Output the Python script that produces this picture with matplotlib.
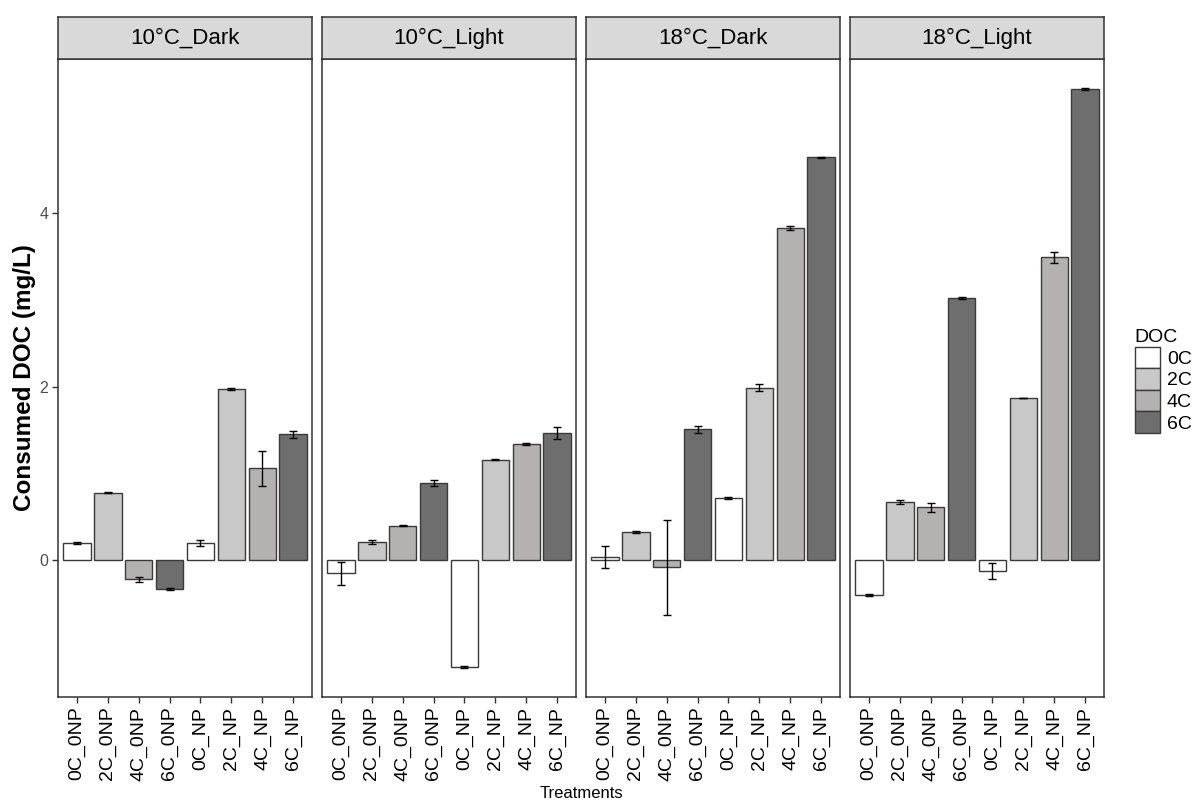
import numpy as np
import matplotlib
matplotlib.use('Agg')
import matplotlib.pyplot as plt
from matplotlib.patches import Patch

plt.rcParams['font.family'] = ['Liberation Sans', 'DejaVu Sans']

# Treatments on the x axis, DOC level of each treatment
treatments = ['0C_0NP', '2C_0NP', '4C_0NP', '6C_0NP', '0C_NP', '2C_NP', '4C_NP', '6C_NP']
doc_group = ['0C', '2C', '4C', '6C', '0C', '2C', '4C', '6C']
panels = ['10°C_Dark', '10°C_Light', '18°C_Dark', '18°C_Light']

# mean consumed DOC (mg/L) and error per panel
dark10 = [0.20, 0.78, -0.22, -0.33, 0.20, 1.97, 1.06, 1.45]
dark10_se = [0.01, 0.01, 0.03, 0.01, 0.03, 0.01, 0.20, 0.04]
light10 = [-0.15, 0.21, 0.40, 0.89, -1.23, 1.16, 1.34, 1.47]
light10_se = [0.13, 0.02, 0.01, 0.03, 0.01, 0.01, 0.01, 0.07]
dark18 = [0.04, 0.33, -0.08, 1.51, 0.72, 1.99, 3.83, 4.64]
dark18_se = [0.13, 0.01, 0.55, 0.04, 0.01, 0.04, 0.02, 0.01]
light18 = [-0.40, 0.67, 0.61, 3.02, -0.12, 1.87, 3.49, 5.43]
light18_se = [0.01, 0.02, 0.05, 0.01, 0.09, 0.005, 0.06, 0.01]

means = [dark10, light10, dark18, light18]
errs = [dark10_se, light10_se, dark18_se, light18_se]

doc_levels = ['0C', '2C', '4C', '6C']
doc_colors = {'0C': '#FFFFFF', '2C': '#C8C8C8', '4C': '#B6B1B1', '6C': '#6E6E6E'}

# y limits like ggplot's 5% expansion
all_lo = min(min(np.array(m) - np.array(e)) for m, e in zip(means, errs))
all_hi = max(max(np.array(m) + np.array(e)) for m, e in zip(means, errs))
pad = 0.05 * (all_hi - all_lo)
ylo, yhi = all_lo - pad, all_hi + pad

W, H = 1197, 802
fig = plt.figure(figsize=(W / 100, H / 100), dpi=100)

lefts = [58, 322, 586, 850]
pw = 254
ptop, pbot = 59, 697
stop = 17
edge = '#333333'
x = np.arange(1, 9)

for i, name in enumerate(panels):
    l = lefts[i]
    ax = fig.add_axes([l / W, 1 - pbot / H, pw / W, (pbot - ptop) / H])
    cols = [doc_colors[g] for g in doc_group]
    ax.bar(x, means[i], width=0.9, color=cols, edgecolor='#3a3a3a', linewidth=1.0, zorder=2)
    ax.errorbar(x, means[i], yerr=errs[i], fmt='none', ecolor='black',
                elinewidth=1.0, capsize=2.6, capthick=1.0, zorder=3)
    ax.set_xlim(0.4, 8.6)
    ax.set_ylim(ylo, yhi)
    ax.set_xticks(x)
    ax.set_xticklabels(treatments, rotation=90, fontsize=14, color='black')
    ax.set_yticks([0, 2, 4])
    if i == 0:
        ax.set_yticklabels(['0', '2', '4'], fontsize=11.5, color='#4D4D4D')
    else:
        ax.tick_params(axis='y', left=False, labelleft=False)
    ax.tick_params(axis='both', length=4, width=1, color='#333333', pad=3)
    for s in ax.spines.values():
        s.set_color(edge)
        s.set_linewidth(1.1)

    sax = fig.add_axes([l / W, 1 - ptop / H, pw / W, (ptop - stop) / H])
    sax.set_facecolor('#D9D9D9')
    sax.set_xticks([])
    sax.set_yticks([])
    for s in sax.spines.values():
        s.set_color(edge)
        s.set_linewidth(1.1)
    sax.text(0.5, 0.5, name, ha='center', va='center', fontsize=16, transform=sax.transAxes)

fig.text(25 / W, 1 - 378 / H, 'Consumed DOC (mg/L)', rotation=90, ha='center', va='center',
         fontsize=17.5, fontweight='bold')
fig.text(581 / W, 1 - 793 / H, 'Treatments', ha='center', va='center', fontsize=12)

handles = [Patch(facecolor=doc_colors[d], edgecolor='#3a3a3a', linewidth=1.0) for d in doc_levels]
leg = fig.legend(handles, doc_levels, title='DOC', loc='center left',
                 bbox_to_anchor=(1127 / W, 1 - 381 / H), frameon=False, fontsize=14,
                 title_fontsize=14, handlelength=1.3, handleheight=1.3,
                 labelspacing=0.02, handletextpad=0.35, borderaxespad=0)
leg._legend_box.align = 'left'

plt.savefig('out.png', dpi=100)
